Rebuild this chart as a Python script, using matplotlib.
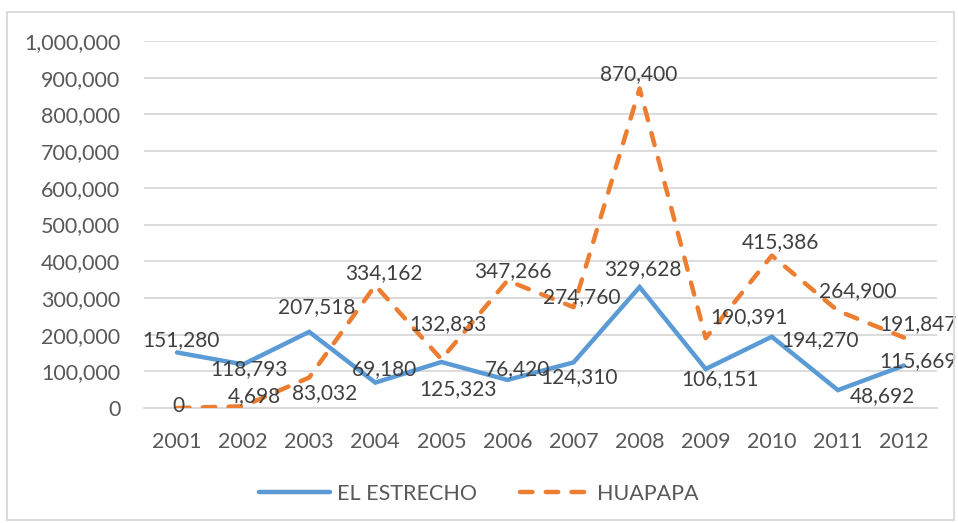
import matplotlib.pyplot as plt
from matplotlib.patches import Rectangle
from matplotlib.ticker import FuncFormatter

plt.rcParams['font.family'] = ['Lato', 'DejaVu Sans']

years = ['2001', '2002', '2003', '2004', '2005', '2006',
         '2007', '2008', '2009', '2010', '2011', '2012']
estrecho = [151280, 118793, 207518, 69180, 125323, 76420,
            124310, 329628, 106151, 194270, 48692, 115669]
huapapa = [0, 4698, 83032, 334162, 132833, 347266,
           274760, 870400, 190391, 415386, 264900, 191847]

# label offsets in pixels (dx, dy) from each point
off_estrecho = [(4, 12), (6, -5), (7, 25), (9, 14), (17, -27), (10, 11),
                (5, -15), (3, 18), (14, -10), (48, -3), (45, -6), (14, 4)]
off_huapapa = [(1, 2), (11, 10), (15, -16), (9, 12), (7, 35), (5, 9),
               (8, 10), (-1, 14), (43, 21), (9, 13), (20, 20), (14, 13)]

blue = '#5B9BD5'
orange = '#ED7D31'
fs = 15.5
fs_lab = 15

fig = plt.figure(figsize=(9.58, 5.23), dpi=100)
ax = fig.add_axes([144 / 958, 1 - 408 / 523, 793 / 958, 367 / 523])

x = list(range(len(years)))
ax.plot(x, estrecho, color=blue, lw=3.2, solid_capstyle='round',
        solid_joinstyle='miter', label='EL ESTRECHO', zorder=3)
ax.plot(x, huapapa, color=orange, lw=3.2, dashes=(2.8, 3.0),
        dash_capstyle='round', label='HUAPAPA', zorder=3)

for i in x:
    dx, dy = off_estrecho[i]
    ax.annotate(f'{estrecho[i]:,}', (i, estrecho[i]), xytext=(dx * 0.72, dy * 0.72),
                textcoords='offset points', ha='center', va='center',
                fontsize=fs_lab, color='#404040', zorder=4)
    dx, dy = off_huapapa[i]
    ax.annotate(f'{huapapa[i]:,}', (i, huapapa[i]), xytext=(dx * 0.72, dy * 0.72),
                textcoords='offset points', ha='center', va='center',
                fontsize=fs_lab, color='#404040', zorder=4)

ax.set_xlim(-0.5, len(years) - 0.5)
ax.set_ylim(0, 1000000)
ax.set_yticks(range(0, 1000001, 100000))
ax.yaxis.set_major_formatter(FuncFormatter(lambda v, p: f'{int(v):,}'))
ax.set_xticks(x)
ax.set_xticklabels(years)
ax.grid(axis='y', color='#d9d9d9', lw=1.3)
ax.set_axisbelow(True)
for s in ['top', 'right', 'left']:
    ax.spines[s].set_visible(False)
ax.spines['bottom'].set_color('#d9d9d9')
ax.spines['bottom'].set_linewidth(1.3)
ax.tick_params(axis='y', length=0, pad=17, labelsize=fs, labelcolor='#595959')
ax.tick_params(axis='x', length=0, pad=17, labelsize=fs, labelcolor='#595959')

leg = fig.legend(loc='center', bbox_to_anchor=(0.5, 1 - 494 / 523), ncol=2,
                 frameon=False, fontsize=fs, handlelength=3.3, columnspacing=2.0,
                 handletextpad=0.3)
for t in leg.get_texts():
    t.set_color('#595959')

fig.patches.append(Rectangle((7 / 958, 3 / 523), 947 / 958, 508 / 523,
                             transform=fig.transFigure, fill=False,
                             edgecolor='#d9d9d9', lw=1.3))

fig.savefig('out.png', dpi=100)
